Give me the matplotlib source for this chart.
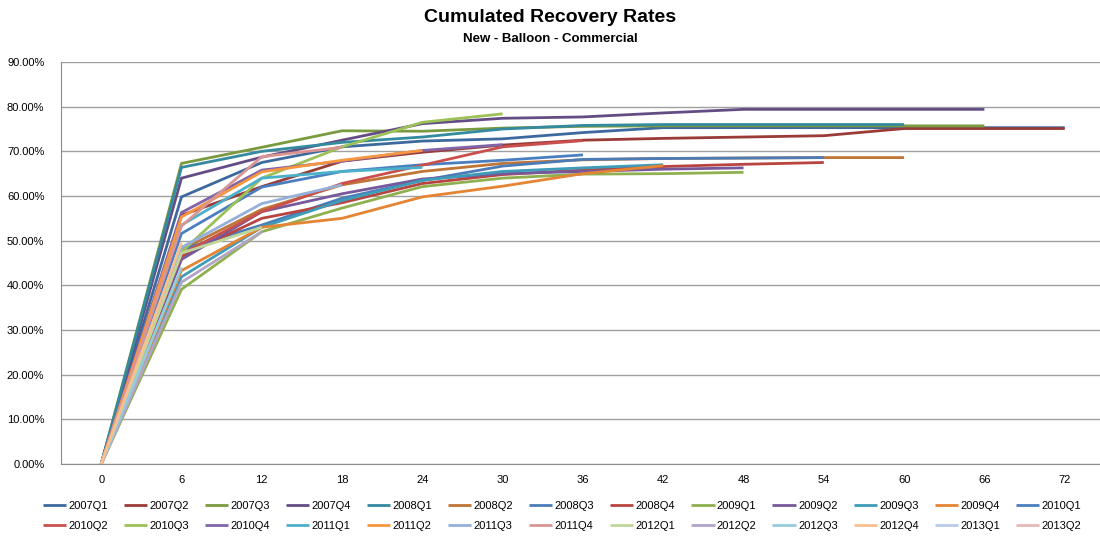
import numpy as np
import matplotlib.pyplot as plt

# Meses desde a originação (categorias do eixo x)
months = ['0', '6', '12', '18', '24', '30', '36', '42', '48', '54', '60', '66', '72']

# Trimestres de originação
quarters = ['2007Q1', '2007Q2', '2007Q3', '2007Q4', '2008Q1', '2008Q2', '2008Q3',
            '2008Q4', '2009Q1', '2009Q2', '2009Q3', '2009Q4', '2010Q1',
            '2010Q2', '2010Q3', '2010Q4', '2011Q1', '2011Q2', '2011Q3',
            '2011Q4', '2012Q1', '2012Q2', '2012Q3', '2012Q4', '2013Q1', '2013Q2']

# Taxas de recuperação acumuladas (%)
rates = [
    [0, 59.8, 67.5, 71.0, 72.3, 72.8, 74.2, 75.3, 75.3, 75.3, 75.3, 75.3, 75.3],
    [0, 55.7, 62.1, 67.8, 69.8, 71.4, 72.5, 72.9, 73.2, 73.5, 75.1, 75.1, 75.1],
    [0, 67.3, 70.9, 74.6, 74.5, 75.2, 75.6, 75.7, 75.7, 75.7, 75.7, 75.7],
    [0, 64.0, 68.7, 72.5, 76.2, 77.4, 77.7, 78.6, 79.4, 79.4, 79.4, 79.4],
    [0, 66.4, 70.0, 72.0, 73.2, 75.0, 75.8, 76.0, 76.0, 76.0, 76.0],
    [0, 48.0, 57.0, 62.5, 65.5, 67.3, 68.1, 68.4, 68.5, 68.6, 68.6],
    [0, 48.0, 53.5, 59.5, 63.5, 66.7, 68.2, 68.4, 68.5, 68.6],
    [0, 46.5, 55.0, 58.5, 62.8, 64.8, 65.8, 66.6, 67.1, 67.5],
    [0, 39.1, 52.0, 57.3, 62.1, 64.0, 64.9, 65.0, 65.3],
    [0, 45.8, 56.5, 60.5, 63.8, 65.0, 65.5, 66.0, 66.3],
    [0, 41.9, 53.0, 59.0, 63.5, 65.5, 66.3, 67.0],
    [0, 43.3, 53.0, 55.0, 59.8, 62.2, 65.0, 66.8],
    [0, 51.6, 62.0, 65.5, 67.0, 68.0, 69.2],
    [0, 47.0, 56.5, 62.8, 66.9, 71.0, 72.4],
    [0, 47.5, 64.0, 71.0, 76.5, 78.4],
    [0, 56.3, 65.8, 67.8, 70.2, 71.5],
    [0, 53.5, 64.0, 65.5, 66.4],
    [0, 55.3, 65.4, 68.0, 70.2],
    [0, 48.5, 58.3, 62.5],
    [0, 53.3, 68.8, 70.9],
    [0, 47.2, 53.0],
    [0, 40.7, 52.0],
    [0, 44.0],
    [0, 49.5],
    [0],
    [0],
]

colors = ['#3D6A9E', '#9A3B38', '#7A9A3F', '#644D85', '#348A9E', '#C07636',
          '#4C7CB8', '#B9443F', '#8FB04E', '#76599C', '#3E9CB8', '#E58432',
          '#4A7EC0', '#C9504C', '#9CC158', '#8265A8', '#4BB0CB', '#F7963F',
          '#95B0DA', '#DA9593', '#C0D79A', '#B3A3C8', '#94CCDD', '#F9BF8E',
          '#B9CBE6', '#E6B9B8']

plt.rcParams['font.family'] = ['Liberation Sans', 'DejaVu Sans']

fig = plt.figure(figsize=(11, 5.41), dpi=100)
ax = fig.add_axes([0.0555, 0.1423, 0.9445, 0.7431])

handles = []
for name, vals, c in zip(quarters, rates, colors):
    x = np.arange(len(vals))
    h, = ax.plot(x, np.array(vals) / 100, color=c, lw=2, label=name,
                 solid_capstyle='butt')
    handles.append(h)

ax.set_xlim(-0.5, 12.44)
ax.set_ylim(0, 0.9)
ax.set_xticks(range(len(months)))
ax.set_xticklabels(months)
ax.set_yticks(np.arange(0, 0.91, 0.1))
ax.set_yticklabels(['%.2f%%' % (v * 100) for v in np.arange(0, 0.91, 0.1)])
ax.tick_params(axis='both', length=0, labelsize=8)
ax.tick_params(axis='y', pad=12)
ax.tick_params(axis='x', pad=8)
ax.grid(axis='y', color='#A0A0A0', lw=1)
ax.set_axisbelow(True)
for s in ['top', 'right']:
    ax.spines[s].set_visible(False)
ax.spines['left'].set_color('#8C8C8C')
ax.spines['bottom'].set_color('#8C8C8C')

# Título e subtítulo
fig.text(0.5, 1 - 18 / 541, 'Cumulated Recovery Rates', ha='center', va='center',
         fontsize=14, fontweight='bold')
fig.text(0.5, 1 - 39 / 541, 'New - Balloon - Commercial', ha='center', va='center',
         fontsize=9.5, fontweight='bold')

# Legenda em duas linhas (preenchida por linhas)
order = []
for c in range(13):
    order += [c, c + 13]
fig.legend([handles[i] for i in order], [quarters[i] for i in order],
           ncol=13, loc='center', bbox_to_anchor=(0.511, 0.047), frameon=False,
           fontsize=8, handlelength=2.1, handletextpad=0.2, columnspacing=1.43,
           labelspacing=0.9)

fig.savefig('out.png', dpi=100)
